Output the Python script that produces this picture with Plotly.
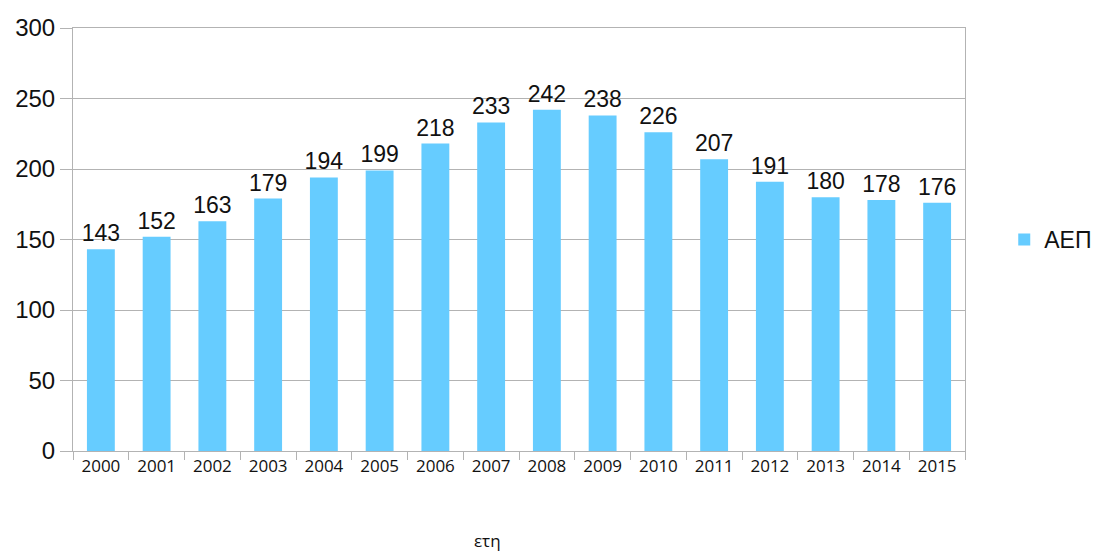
import plotly.graph_objects as go

years = ["2000", "2001", "2002", "2003", "2004", "2005", "2006", "2007",
         "2008", "2009", "2010", "2011", "2012", "2013", "2014", "2015"]
gdp = [143, 152, 163, 179, 194, 199, 218, 233, 242, 238, 226, 207, 191, 180, 178, 176]
y_ticks = [0, 50, 100, 150, 200, 250, 300]
series_name = "ΑΕΠ"
x_title = "ετη"

fig = go.Figure()
fig.add_trace(go.Bar(
    x=years, y=gdp, name=series_name,
    marker=dict(color="#66CCFF", line=dict(width=0)),
    text=[str(v) for v in gdp], textposition="outside",
    constraintext="none",
    textfont=dict(family="Liberation Sans, Arial", size=23, color="#111111"),
    cliponaxis=False,
))

fig.update_layout(
    width=1094, height=548,
    margin=dict(l=65, r=137, t=20, b=105, autoexpand=False),
    paper_bgcolor="white", plot_bgcolor="white",
    bargap=0.5,
    showlegend=True,
    legend=dict(x=1.044, y=0.5, xanchor="left", yanchor="middle",
                font=dict(family="Liberation Sans, Arial", size=23, color="#111111"),
                itemwidth=30),
    xaxis=dict(
        type="category", showgrid=False, automargin=False,
        ticks="outside", tickson="boundaries", ticklen=8, tickcolor="#b3b3b3",
        showline=True, linecolor="#b3b3b3", linewidth=1, mirror=True,
        tickfont=dict(family="Open Sans, Liberation Sans", size=17, color="#111111"),
    ),
    yaxis=dict(
        range=[0, 300], tickvals=y_ticks, automargin=False,
        showgrid=True, gridcolor="#b3b3b3", gridwidth=1,
        ticks="outside", ticklen=12, tickcolor="#b3b3b3",
        showline=True, linecolor="#b3b3b3", linewidth=1, mirror=True,
        tickfont=dict(family="Liberation Sans, Arial", size=24, color="#111111"),
        zeroline=False,
    ),
    annotations=[dict(
        text=x_title, xref="paper", yref="paper", x=(479 - 65) / 892, y=-0.18,
        xanchor="center", yanchor="top", showarrow=False,
        font=dict(family="Open Sans, Liberation Sans", size=17, color="#111111"),
    )],
)

fig.write_html("out.html")
